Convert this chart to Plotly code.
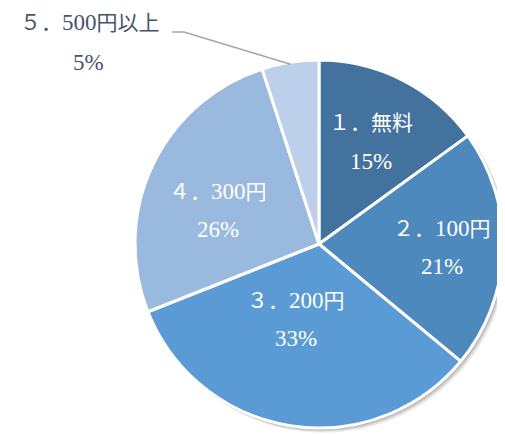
import math
import re
import plotly.graph_objects as go

# ---- data ----
categories = ["１．無料", "２．100円", "３．200円", "４．300円", "５．500円以上"]
values = [15, 21, 33, 26, 5]
pct_labels = ["15%", "21%", "33%", "26%", "5%"]

# ---- style ----
colors = ["#44729F", "#4E89BE", "#5B9BD5", "#9AB9DF", "#BDD0EB"]
W, H = 505, 436
OFF = 8                              # page body margin compensation
CX, CY, R = 319 - OFF, 244 - OFF, 184  # pie centre (px from left/top) and radius
label_r = [0.62, 0.67, 0.43, 0.58, None]   # radial position of inside labels
label_da = [0, 0, 8, -7, 0]                # small angular nudges (deg)
FONT = "Liberation Serif, 'Noto Sans CJK JP', serif"
FS = 21          # CJK glyph size
FS_ASCII = 23    # latin digits / percent size
LINE_GAP = 19


def fmt(s):
    # enlarge the half-width (latin) runs to mimic the original serif digits
    return re.sub(r"([0-9%]+)",
                  rf'<span style="font-family:Liberation Serif;font-size:{FS_ASCII}px">\1</span>', s)


def px(x):
    return x / W


def py(y):
    return 1 - y / H


fig = go.Figure()

fig.add_trace(go.Pie(
    labels=categories,
    values=values,
    sort=False,
    direction="clockwise",
    rotation=0,
    marker=dict(colors=colors, line=dict(color="white", width=3)),
    textinfo="none",
    hoverinfo="label+percent",
    showlegend=False,
    domain=dict(x=[px(CX - R), px(CX + R)], y=[py(CY + R), py(CY - R)]),
))

# soft shadow below pie
shapes = []
for off, op in [(5, 0.05), (4, 0.07), (3, 0.09), (2, 0.10)]:
    shapes.append(dict(type="circle", xref="paper", yref="paper", layer="below",
                       x0=px(CX - R + off - 1), x1=px(CX + R + off),
                       y0=py(CY + R + off), y1=py(CY - R + off - 1),
                       fillcolor=f"rgba(0,0,0,{op})", line=dict(width=0)))

annotations = []
total = sum(values)
cum = 0
for i, v in enumerate(values):
    mid = (cum + v / 2) / total * 360
    cum += v
    if label_r[i] is None:
        continue
    a = math.radians(mid + label_da[i])
    x = CX + label_r[i] * R * math.sin(a)
    y = CY - label_r[i] * R * math.cos(a)
    for txt, sh in [(categories[i], LINE_GAP), (pct_labels[i], -LINE_GAP)]:
        annotations.append(dict(x=px(x), y=py(y), xref="paper", yref="paper",
                                xanchor="center", yanchor="middle",
                                text=fmt(txt), showarrow=False, yshift=sh,
                                font=dict(family=FONT, size=FS, color="white")))

# outside label for the small slice
i = 4
mid = (sum(values[:4]) + values[4] / 2) / total * 360
a = math.radians(mid)
ex = CX + (R - 2) * math.sin(a)
ey = CY - (R - 2) * math.cos(a)
LX, LY = 90 - OFF, 23 - OFF
annotations.append(dict(x=px(LX), y=py(LY), xref="paper", yref="paper",
                        xanchor="center", yanchor="middle",
                        text=fmt(categories[i]), showarrow=False,
                        font=dict(family=FONT, size=FS, color="#44546A")))
annotations.append(dict(x=px(LX - 2), y=py(LY + 40), xref="paper", yref="paper",
                        xanchor="center", yanchor="middle",
                        text=fmt(pct_labels[i]), showarrow=False,
                        font=dict(family=FONT, size=FS, color="#44546A")))
shapes.append(dict(type="path", xref="paper", yref="paper", layer="above",
                   path=f"M {px(172 - OFF)},{py(32 - OFF)} L {px(184 - OFF)},{py(32 - OFF)} L {px(ex)},{py(ey)}",
                   line=dict(color="#A6A6A6", width=1.5)))

fig.update_layout(
    width=W, height=H,
    margin=dict(l=0, r=0, t=0, b=0),
    paper_bgcolor="white",
    plot_bgcolor="white",
    shapes=shapes,
    annotations=annotations,
)

fig.write_html("out.html")
